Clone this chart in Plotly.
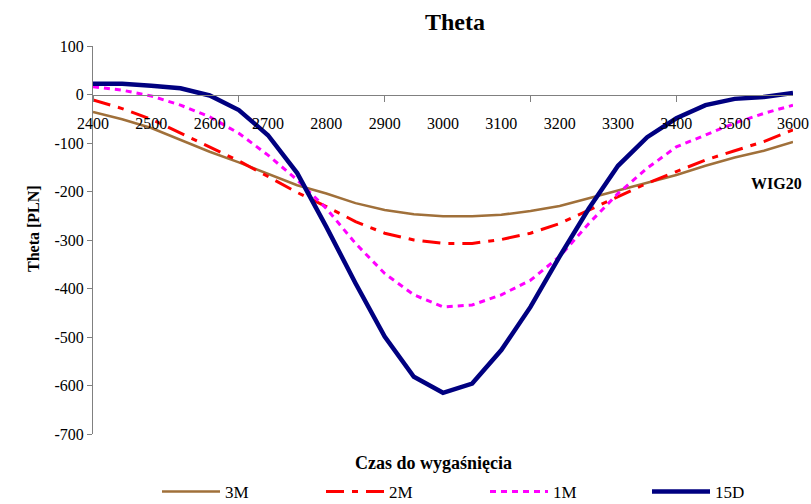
import plotly.graph_objects as go

# Underlying index level (strike axis), step 50
strikes = [2400, 2450, 2500, 2550, 2600, 2650, 2700, 2750, 2800, 2850, 2900, 2950,
           3000, 3050, 3100, 3150, 3200, 3250, 3300, 3350, 3400, 3450, 3500, 3550, 3600]

# Theta [PLN] for each time to expiry
theta_3m = [-36, -51, -69, -94, -118, -140, -164, -187, -204, -224, -238, -247,
            -251, -251, -248, -240, -230, -214, -199, -183, -166, -147, -130, -116, -98]
theta_2m = [-11, -29, -51, -80, -108, -137, -169, -202, -231, -262, -286, -300,
            -307, -307, -299, -286, -266, -238, -211, -183, -159, -135, -116, -97, -73]
theta_1m = [16, 9, -3, -22, -46, -80, -125, -176, -235, -307, -369, -413,
            -438, -434, -413, -383, -334, -266, -204, -152, -108, -84, -59, -39, -22]
theta_15d = [22, 22, 18, 13, -2, -32, -84, -162, -273, -389, -499, -582,
             -615, -596, -527, -438, -334, -235, -147, -88, -49, -22, -9, -5, 3]

x_labels = [2400, 2500, 2600, 2700, 2800, 2900, 3000, 3100, 3200, 3300, 3400, 3500, 3600]
x_marks = [2400, 2650, 2900, 3150, 3400]
y_ticks = [100, 0, -100, -200, -300, -400, -500, -600, -700]

SERIF = "Liberation Serif, Times New Roman, serif"
AXIS_GREY = "#808080"

# plot area in pixels
L, R, T, B = 93, 18, 46, 70
W, H = 811, 504
PW, PH = W - L - R, H - T - B


def px_x(px):
    return (px - L) / PW


def px_y(py):
    return (H - B - py) / PH


series = [
    ("3M", theta_3m, dict(color="#A0703A", width=2.5), "legend", 157),
    ("2M", theta_2m, dict(color="#FF0000", width=3, dash="18px,8px,6px,8px"), "legend2", 321),
    ("1M", theta_1m, dict(color="#FF00FF", width=3, dash="6px,5px"), "legend3", 485),
    ("15D", theta_15d, dict(color="#000080", width=4.5), "legend4", 647),
]

fig = go.Figure()
legend_defs = {}
for name, vals, line, leg, leg_px in series:
    fig.add_trace(go.Scatter(x=strikes, y=vals, name=name, mode="lines",
                             line=line, legend=leg))
    legend_defs[leg] = dict(orientation="h", x=px_x(leg_px), xanchor="left",
                            y=px_y(492), yanchor="middle", itemwidth=58,
                            font=dict(family=SERIF, size=17, color="black"),
                            bgcolor="rgba(0,0,0,0)", borderwidth=0)

# zero-crossing position of the category axis inside the y domain
y_min, y_max = -700, 100
zero_pos = (0 - y_min) / (y_max - y_min)

fig.update_layout(
    width=W, height=H,
    margin=dict(l=L, r=R, t=T, b=B, autoexpand=False),
    paper_bgcolor="white", plot_bgcolor="white",
    font=dict(family=SERIF, color="black", size=16),
    title=dict(text="<b>Theta</b>", x=455 / W, xanchor="center",
               y=1 - 22 / H, yanchor="middle",
               font=dict(family=SERIF, size=24, color="black")),
    xaxis=dict(range=[2400, 3600], anchor="free", position=zero_pos,
               tickvals=x_labels, ticktext=[str(v) for v in x_labels],
               ticks="outside", ticklen=14, tickcolor="rgba(0,0,0,0)",
               showline=True, linecolor=AXIS_GREY, linewidth=1,
               showgrid=False, zeroline=False,
               tickfont=dict(family=SERIF, size=16, color="black")),
    xaxis2=dict(range=[2400, 3600], overlaying="x", anchor="free", position=zero_pos,
                tickvals=x_marks, ticks="outside", ticklen=6, tickcolor=AXIS_GREY,
                showticklabels=False, showline=False, showgrid=False, zeroline=False),
    yaxis=dict(range=[y_min, y_max], tickvals=y_ticks,
               ticktext=[str(v) for v in y_ticks],
               ticks="outside", ticklen=5, tickcolor=AXIS_GREY,
               showline=True, linecolor=AXIS_GREY, linewidth=1,
               showgrid=False, zeroline=False,
               tickfont=dict(family=SERIF, size=16, color="black")),
    showlegend=True,
    annotations=[
        dict(text="<b>Theta [PLN]</b>", xref="paper", yref="paper",
             x=px_x(33), y=px_y(229), xanchor="center", yanchor="middle",
             textangle=-90, showarrow=False,
             font=dict(family=SERIF, size=16, color="black")),
        dict(text="<b>Czas do wygaśnięcia</b>", xref="paper", yref="paper",
             x=px_x(433), y=px_y(463), xanchor="center", yanchor="middle",
             showarrow=False, font=dict(family=SERIF, size=18, color="black")),
        dict(text="<b>WIG20</b>", xref="paper", yref="paper",
             x=px_x(776), y=px_y(183), xanchor="center", yanchor="middle",
             showarrow=False, font=dict(family=SERIF, size=16, color="black")),
    ],
)
fig.update_layout(**legend_defs)

# invisible trace to activate the tick-mark overlay axis
fig.add_trace(go.Scatter(x=[2400], y=[0], xaxis="x2", mode="markers",
                         marker=dict(opacity=0), showlegend=False, hoverinfo="skip"))

fig.write_html("out.html")
